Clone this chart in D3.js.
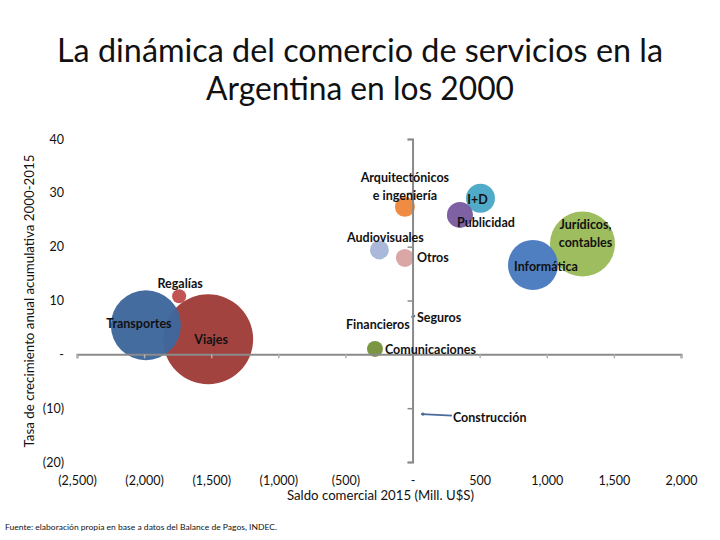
<!DOCTYPE html>
<html>
<head>
<meta charset="utf-8">
<script src="https://cdn.jsdelivr.net/npm/d3@7"></script>
<style>
  html, body { margin: 0; padding: 0; background: #fff; }
  svg { display: block; font-family: Lato, "Open Sans", sans-serif; }
</style>
</head>
<body>
<svg id="chart" width="720" height="540"></svg>
<script>
// ---- Data ----
const categories = ["Transportes", "Viajes", "Regalías", "Arquitectónicos\ne ingeniería", "I+D", "Publicidad",
  "Audiovisuales", "Otros", "Informática", "Jurídicos,\ncontables", "Financieros", "Seguros",
  "Comunicaciones", "Construcción"];
const saldo = [-1987, -1523, -1739, -57, 506, 353, -247, -57, 897, 1266, -5, 10, -280, 70];   // Mill. U$S
const tasa  = [5.4, 2.8, 10.8, 27.4, 29.0, 25.9, 19.4, 17.9, 16.6, 20.5, 7.0, 7.1, 1.0, -11.1]; // %
const tamano = [1225, 2025, 49, 100, 210, 169, 90, 81, 625, 1056, 0.5, 2, 64, 1];            // bubble size
const xTicks = [-2500, -2000, -1500, -1000, -500, 0, 500, 1000, 1500, 2000];
const yTicks = [40, 30, 20, 10, 0, -10, -20];
const titleLines = ["La dinámica del comercio de servicios en la", "Argentina en los 2000"];
const yTitle = "Tasa de crecimiento anual acumulativa 2000-2015";
const xTitle = "Saldo comercial 2015 (Mill. U$S)";
const source = "Fuente: elaboración propia en base a datos del Balance de Pagos, INDEC.";

// ---- Styles / layout (kept separate from data) ----
const colors = ["#3f679c", "#a03d3a", "#c0504d", "#f0883c", "#4aa8c6", "#7a5c9f",
  "#a7b7d9", "#d9a3a3", "#4a7bbf", "#9bbb59", "#8a8a8a", "#4f6f9c", "#77933c", "#4f6f9c"];
// label placement relative to bubble centre: [dx, dy, anchor]
const labelPos = {
  "Transportes": [-7, -2, "middle"],
  "Viajes": [3, 0, "middle"],
  "Regalías": [1, -13, "middle"],
  "Arquitectónicos\ne ingeniería": [0, -29, "middle"],
  "I+D": [-3, 1, "middle"],
  "Publicidad": [26, 8, "middle"],
  "Audiovisuales": [6, -12, "middle"],
  "Otros": [12, 0, "start"],
  "Informática": [13, 2, "middle"],
  "Jurídicos,\ncontables": [3, -19, "middle"],
  "Financieros": [-34, 8, "middle"],
  "Seguros": [3, 2, "start"],
  "Comunicaciones": [10, 1, "start"],
  "Construcción": [31, 4, "start"]
};
const leaderLines = { "Construcción": 30 };

const svg = d3.select("#chart");
const W = 720, H = 540;

// Scales
const x = d3.scaleLinear().domain([-2500, 2000]).range([77, 681]);
const y = d3.scaleLinear().domain([-20, 40]).range([462, 139]);
const r = d3.scaleSqrt().domain([0, 2025]).range([0, 45]);

const fmt = v => v === 0 ? "-" : (v < 0 ? "(" + d3.format(",")(-v) + ")" : d3.format(",")(v));

// Title
svg.append("g").selectAll("text").data(titleLines).join("text")
  .attr("x", W / 2)
  .attr("y", (d, i) => 62 + i * 38)
  .attr("text-anchor", "middle")
  .attr("font-size", 32)
  .attr("fill", "#111")
  .attr("textLength", (d, i) => i === 0 ? 606 : 308)
  .attr("lengthAdjust", "spacingAndGlyphs")
  .text(d => d);

// Bubbles (largest first so small ones sit on top)
const data = categories.map((c, i) => ({ name: c, sx: saldo[i], ty: tasa[i], size: tamano[i], color: colors[i] }));
const order = data.slice().sort((a, b) => b.size - a.size);

svg.append("g").selectAll("circle").data(order).join("circle")
  .attr("cx", d => x(d.sx))
  .attr("cy", d => y(d.ty))
  .attr("r", d => Math.max(r(d.size), 1))
  .attr("fill", d => d.color)
  .attr("fill-opacity", 0.97);

// Axes through origin
const axisColor = "#8a8a8a";
const gx = svg.append("g").attr("transform", `translate(0,${y(0)})`)
  .call(d3.axisBottom(x).tickValues(xTicks).tickSize(4).tickFormat("").tickSizeOuter(4));
gx.select(".domain").attr("stroke", axisColor).attr("stroke-width", 2);
gx.selectAll(".tick line").attr("stroke", "#b0b0b0").attr("stroke-width", 1.5);

const gy = svg.append("g").attr("transform", `translate(${x(0)},0)`)
  .call(d3.axisLeft(y).tickValues(yTicks).tickSize(5).tickFormat("").tickSizeOuter(5));
gy.select(".domain").attr("stroke", axisColor).attr("stroke-width", 2);
gy.selectAll(".tick line").attr("stroke", axisColor).attr("stroke-width", 1.5);

// Tick labels (low position)
const gxl = svg.append("g").attr("transform", "translate(0,476)")
  .call(d3.axisBottom(x).tickValues(xTicks).tickSize(0).tickPadding(0).tickFormat(fmt));
gxl.select(".domain").remove();
gxl.selectAll("text").attr("font-size", 12.5).attr("fill", "#111").attr("font-family", "Lato, sans-serif");

const gyl = svg.append("g").attr("transform", "translate(64,0)")
  .call(d3.axisLeft(y).tickValues(yTicks).tickSize(0).tickPadding(0).tickFormat(fmt));
gyl.select(".domain").remove();
gyl.selectAll("text").attr("font-size", 12.5).attr("fill", "#111").attr("font-family", "Lato, sans-serif");

// Axis titles
svg.append("text")
  .attr("transform", "translate(34,301) rotate(-90)")
  .attr("text-anchor", "middle")
  .attr("font-size", 12.5)
  .attr("fill", "#111")
  .attr("textLength", 293)
  .attr("lengthAdjust", "spacingAndGlyphs")
  .text(yTitle);

svg.append("text")
  .attr("x", 380.5).attr("y", 500)
  .attr("text-anchor", "middle")
  .attr("font-size", 13)
  .attr("fill", "#111")
  .attr("textLength", 187)
  .attr("lengthAdjust", "spacingAndGlyphs")
  .text(xTitle);

// Leader lines
Object.keys(leaderLines).forEach(name => {
  const d = data.find(e => e.name === name);
  const cx = x(d.sx), cy = y(d.ty);
  svg.append("line")
    .attr("x1", cx).attr("y1", cy)
    .attr("x2", cx + leaderLines[name]).attr("y2", cy + 1.5)
    .attr("stroke", "#4a6a9a").attr("stroke-width", 1.6);
  svg.append("circle").attr("cx", cx + 1).attr("cy", cy).attr("r", 1.6).attr("fill", "#4a6a9a");
});

// Data labels
const lg = svg.append("g");
data.forEach(d => {
  const [dx, dy, anchor] = labelPos[d.name];
  const lines = d.name.split("\n");
  const spacing = 17.5;
  const t = lg.append("text")
    .attr("text-anchor", anchor)
    .attr("font-size", 12.5)
    .attr("font-weight", "bold")
    .attr("fill", "#111");
  lines.forEach((ln, i) => {
    t.append("tspan")
      .attr("x", x(d.sx) + dx)
      .attr("y", y(d.ty) + dy + i * spacing)
      .attr("dy", "0.35em")
      .text(ln);
  });
});

// Source note
svg.append("text")
  .attr("x", 5).attr("y", 530)
  .attr("font-size", 7.5)
  .attr("fill", "#111")
  .attr("textLength", 272)
  .attr("lengthAdjust", "spacingAndGlyphs")
  .text(source);
</script>
</body>
</html>
